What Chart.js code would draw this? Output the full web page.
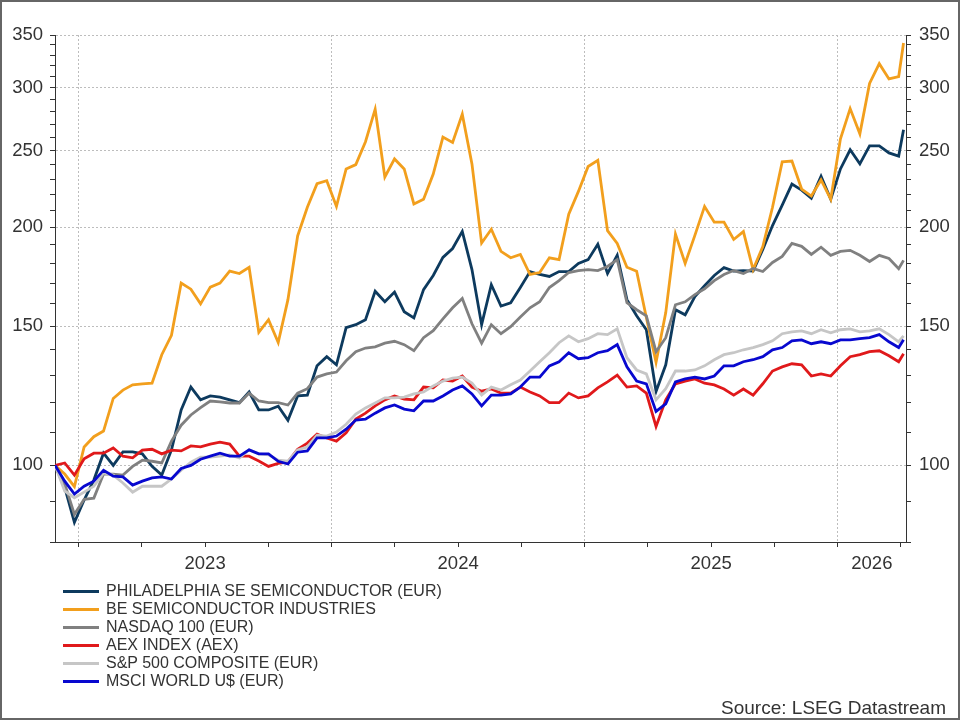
<!DOCTYPE html>
<html>
<head>
<meta charset="utf-8">
<title>Semiconductors vs indices</title>
<style>
  body { margin: 0; background: #fff; }
  #wrap { position: relative; width: 960px; height: 720px; font-family: "Liberation Sans", Arial, sans-serif; color: #333; }
  #frame { position: absolute; left: 0; top: 0; width: 960px; height: 720px; box-sizing: border-box; border: 2px solid #666; pointer-events: none; }
  #legend { position: absolute; left: 63px; top: 582px; font-size: 16px; }
  #legend .row { display: flex; align-items: center; height: 18px; white-space: nowrap; }
  #legend .swatch { width: 36px; height: 3px; margin-right: 7px; }
  #source { position: absolute; right: 14px; top: 697px; font-size: 19px; }
</style>
</head>
<body>
<div id="wrap">
  <canvas id="chart" width="960" height="720"></canvas>
  <div id="legend"></div>
  <div id="source">Source: LSEG Datastream</div>
  <div id="frame"></div>
</div>
<script src="https://cdn.jsdelivr.net/npm/chart.js"></script>
<script>
// biweekly observations from 28 Nov 2022, last one 6 Apr 2026
const dates = [];
for (let i = 0; i < 88; i++) dates.push(new Date(Date.UTC(2022, 10, 28) + i * 14 * 864e5));
dates.push(new Date(Date.UTC(2026, 3, 6)));

const names = [
  "PHILADELPHIA SE SEMICONDUCTOR (EUR)",
  "BE SEMICONDUCTOR INDUSTRIES",
  "NASDAQ 100 (EUR)",
  "AEX INDEX (AEX)",
  "S&P 500 COMPOSITE (EUR)",
  "MSCI WORLD U$ (EUR)"
];
const colors = ["#0d3a5e", "#f29f1d", "#808080", "#e0191b", "#c6c6c6", "#0808cf"];

const sox = [100, 93.8, 84.7, 90.4, 95.8, 103.6, 100, 104, 104, 103.4,
  99.7, 97.2, 104.6, 117.5, 125.6, 121, 122.4, 122, 121, 120,
  123.8, 117.5, 117.5, 118.8, 114, 122.4, 122.7, 133.6, 137.2, 134,
  149.3, 150.6, 152.8, 166, 161, 165.6, 156.4, 153.6, 166.8, 173.8,
  183.2, 188, 197.6, 176.8, 150.6, 169.2, 159, 160.5, 167.8, 175.8,
  174.3, 173.3, 175.8, 175.8, 180, 182, 190.3, 174.8, 184.3, 162,
  154.6, 148.4, 124, 134, 157.3, 155, 163.4, 168.7, 173.8, 177.8,
  176, 176.3, 176, 187.5, 201, 213.3, 226.8, 222.8, 217.6, 232,
  217, 237, 250.6, 240.5, 253.5, 253.5, 248.3, 246, 265.6];
const besi = [100, 97.5, 94, 105.5, 108.7, 110.5, 121.5, 124.5, 126.4, 126.8,
  127, 138, 146, 170, 167, 160, 168, 170, 176, 174.8,
  178, 147.3, 152.8, 143, 162, 195, 212, 227, 229, 212.5,
  237, 240, 256.5, 282, 231.5, 244, 237, 214, 217, 233.5,
  260, 256, 278, 240.5, 191, 198.8, 186.4, 183, 184.8, 174.3,
  175.3, 183, 182, 207.7, 222, 238.7, 243, 198, 190.8, 178,
  176, 153.8, 135, 156, 196, 180, 195.3, 212.5, 203, 203,
  193, 197.5, 176.8, 189, 212, 242, 242.5, 223.5, 219, 229.5,
  217, 258.7, 282.5, 262.5, 304, 322, 308, 310, 342];
const ndx = [100, 94.8, 86.7, 90.6, 90.9, 97.5, 97.5, 97.2, 99.7, 101.5,
  101.2, 100.7, 107.3, 112.4, 115.8, 118.3, 120.6, 120.3, 119.9, 119.9,
  123.4, 120.6, 120, 120, 119.2, 123.4, 125, 129.3, 130.5, 131.2,
  135.6, 139.2, 140.7, 141.2, 142.7, 143.5, 142.1, 139.6, 145, 148,
  153.2, 158.2, 162.5, 151, 142.7, 150.6, 146.7, 149.7, 154, 158.2,
  161, 167.8, 171.2, 175.3, 176.3, 176.8, 176.3, 178.4, 182, 160.6,
  157.3, 154.5, 139.2, 145, 159.6, 161, 164.4, 167.2, 171.2, 174.3,
  176.3, 174.8, 177.3, 175.8, 180.5, 183.7, 190.8, 189.2, 184.8, 188.7,
  184.3, 186.4, 187, 184.3, 181, 184.3, 182.6, 177.3, 181.6];
const aex = [100, 100.7, 97.2, 101.9, 103.6, 103.6, 105.2, 102.7, 102.2, 104.5,
  104.8, 103.4, 104.5, 104.3, 105.8, 105.5, 106.4, 107, 106.4, 102.7,
  102.7, 101.3, 99.7, 100.6, 101, 104.8, 106.7, 109.5, 108.3, 107.3,
  109.9, 114.4, 116.4, 118.9, 121, 122.4, 121.3, 121, 125.6, 125.3,
  128.2, 127.8, 129.7, 125.6, 124.1, 124.9, 123.4, 123.4, 125.6, 123.8,
  122.4, 120, 120, 123.4, 121.7, 122.4, 125.3, 127.5, 130, 125.6,
  126, 123.4, 112, 121, 126.8, 127.8, 128.6, 127, 126.4, 124.9,
  122.7, 124.9, 122.7, 126.8, 131.6, 133.2, 134.4, 134, 129.7, 130.5,
  129.7, 133.6, 137.2, 138, 139.2, 139.6, 137.6, 135.2, 138.4];
const spx = [100, 92.8, 91, 92.5, 94.1, 97.8, 97.2, 95, 92.5, 94.1,
  94.1, 94.1, 96.1, 98.6, 100.9, 102.4, 102.4, 102.7, 103.1, 102.2,
  104.6, 103.4, 103.1, 101.5, 101.2, 104.6, 105.5, 109.2, 108.9, 110.2,
  112.7, 116.1, 118.2, 119.9, 121.7, 121.7, 122, 123.1, 123.8, 126,
  127.8, 128.9, 129.3, 127.1, 122.7, 125.6, 124.5, 126.4, 128.2, 131.6,
  135.2, 138.8, 142.9, 145.8, 143.3, 144.6, 146.7, 146.3, 148.8, 136.8,
  132, 130.5, 121, 125, 131.6, 131.6, 132, 133.6, 136, 138,
  138.8, 140, 140.9, 142.1, 143.7, 146.7, 147.5, 147.9, 146.7, 148.4,
  147.1, 148.4, 148.8, 147.5, 147.9, 148.8, 146.3, 143.3, 145.8];
const msci = [100, 95.5, 92, 94.1, 95.5, 98.6, 96.9, 96.7, 94.4, 95.5,
  96.4, 96.7, 96.1, 99.1, 100, 101.8, 102.7, 103.6, 102.7, 102.7,
  104.6, 103.4, 103.4, 101.2, 100.4, 103.9, 104.3, 108.3, 108.3, 108.9,
  111.1, 114.1, 114.4, 116.4, 118.2, 119.2, 117.8, 117.2, 120.6, 120.6,
  122.4, 124.5, 126, 123.1, 118.9, 122.7, 122.7, 123.1, 125.6, 129.3,
  129.3, 133.6, 135.2, 138.8, 136.4, 136.8, 138.8, 139.6, 142.1, 133.2,
  127.8, 126.8, 117, 119.6, 127.5, 128.6, 129.3, 128.6, 129.7, 133.6,
  133.6, 135.2, 136, 137.2, 140, 140.9, 143.7, 144.1, 142.5, 143.3,
  142.5, 144.1, 144.1, 144.6, 145, 146.3, 143.3, 140.9, 144.1];
const series = [sox, besi, ndx, aex, spx, msci];

const yLabelled = [100, 150, 200, 250, 300, 350];
const yearLabels = ["2023", "2024", "2025", "2026"];
const yearLabelPos = [2023.5, 2024.5, 2025.5, 2026.135];
const quarterTicks = [2023, 2023.25, 2023.5, 2023.75, 2024, 2024.25, 2024.5, 2024.75,
  2025, 2025.25, 2025.5, 2025.75, 2026, 2026.25];

function yearFrac(d) {
  const y = d.getUTCFullYear();
  const s = Date.UTC(y, 0, 1), e = Date.UTC(y + 1, 0, 1);
  return y + (d - s) / (e - s);
}
const xs = dates.map(yearFrac);

Chart.defaults.font.family = '"Liberation Sans", Arial, sans-serif';
Chart.defaults.color = "#333";

const yTickList = [];
for (let v = 80; v <= 350; v += 10) yTickList.push(v);

function yAxis(pos, width, pad) {
  return {
    type: "logarithmic",
    position: pos,
    min: 80,
    max: 350,
    afterBuildTicks: s => { s.ticks = yTickList.map(v => ({ value: v })); },
    afterFit: s => { s.width = width; },
    ticks: {
      autoSkip: false,
      padding: pad,
      font: { size: 18.5 },
      color: "#333",
      callback: v => yLabelled.includes(v) ? String(v) : ""
    },
    grid: {
      drawOnChartArea: pos === "left",
      color: c => yLabelled.includes(c.tick.value) ? "#bdbdbd" : "transparent",
      tickColor: "#333",
      tickLength: 5
    },
    border: { color: "#333", width: 1, dash: [2, 2] }
  };
}

new Chart(document.getElementById("chart"), {
  type: "line",
  data: {
    datasets: series.map((vals, k) => ({
      label: names[k],
      data: vals.map((v, i) => ({ x: xs[i], y: v })),
      borderColor: colors[k],
      borderWidth: 2.8,
      pointRadius: 0,
      tension: 0,
      order: series.length - 1 - k,
      yAxisID: "y"
    }))
  },
  options: {
    responsive: false,
    animation: false,
    layout: { padding: { top: 35, left: 0, right: 0, bottom: 138 } },
    plugins: { legend: { display: false }, tooltip: { enabled: false } },
    scales: {
      x: {
        type: "linear",
        min: xs[0],
        max: 2026.27,
        afterBuildTicks: s => {
          s.ticks = quarterTicks.concat([2026.135]).sort((a, b) => a - b).map(v => ({ value: v }));
        },
        afterFit: s => { s.height = 40; },
        ticks: {
          autoSkip: false,
          maxRotation: 0,
          padding: 6,
          font: { size: 18.5 },
          color: "#333",
          callback: v => {
            const k = yearLabelPos.indexOf(v);
            return k >= 0 ? yearLabels[k] : "";
          }
        },
        grid: {
          color: c => Number.isInteger(c.tick.value) ? "#bdbdbd" : "transparent",
          tickColor: c => c.tick.value === 2026.135 ? "transparent" : "#333",
          tickLength: 5
        },
        border: { color: "#333", width: 1, dash: [2, 2] }
      },
      y: yAxis("left", 55, 7),
      y2: yAxis("right", 54, 8)
    }
  }
});

const legend = document.getElementById("legend");
names.forEach((n, k) => {
  const row = document.createElement("div");
  row.className = "row";
  const sw = document.createElement("span");
  sw.className = "swatch";
  sw.style.background = colors[k];
  const t = document.createElement("span");
  t.textContent = n;
  row.appendChild(sw);
  row.appendChild(t);
  legend.appendChild(row);
});
</script>
</body>
</html>
